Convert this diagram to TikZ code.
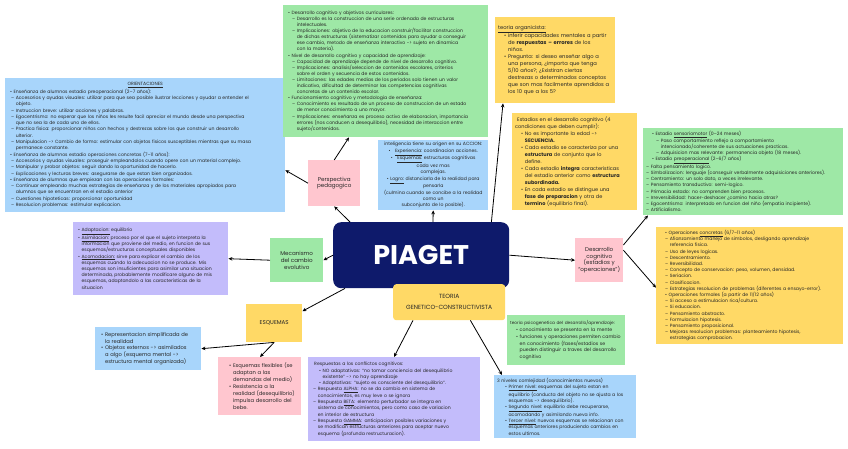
\documentclass[tikz,border=0pt]{standalone}
\usepackage{fontspec}
\setmainfont{Poppins}
\usetikzlibrary{arrows.meta}
\definecolor{bluefill}{HTML}{A8D5FB}
\definecolor{greenfill}{HTML}{9EE8A6}
\definecolor{yellowfill}{HTML}{FFD966}
\definecolor{pinkfill}{HTML}{FFC6CF}
\definecolor{purplefill}{HTML}{C3BCFB}
\definecolor{navyfill}{HTML}{0E1A6B}
\newcommand{\sz}[2]{\fontsize{#1}{#2}\selectfont}
\newcommand{\bi}[1][5pt]{\hspace*{#1}\textbullet\ }
\newcommand{\bc}[1][5pt]{\hspace*{#1}\phantom{\textbullet\ }}
\newcommand{\di}[1][0pt]{\hspace*{#1}–\ }
\newcommand{\dc}[1][0pt]{\hspace*{#1}\phantom{–\ }}

\begin{document}
\begin{tikzpicture}[x=1pt, y=-1pt,
    card/.style={anchor=north west, inner xsep=3pt, inner ysep=0pt, align=left, text=black!85},
    tag/.style={anchor=north west, inner sep=0pt, align=center, text=black!85, font=\sz{5.6}{6.8}},
    arr/.style={-{Stealth[length=4pt, width=3.6pt]}, line width=0.8pt},
  ]
    \fill[white] (0,0) rectangle (848,449);
    \useasboundingbox (0,0) rectangle (848,449);

    % centre
    \node[anchor=north west, fill=navyfill, rounded corners=8pt, minimum width=176pt, minimum height=66pt, text=white, font=\sz{27}{27}\bfseries] (piaget) at (333,222) {PIAGET};
    \node[tag, fill=yellowfill, rounded corners=3pt, minimum width=112pt, minimum height=36pt, font=\sz{6}{11}] (teoria) at (393,284) {TEORIA\\GENETICO-CONSTRUCTIVISTA};

    % small label boxes
    \node[tag, fill=pinkfill, minimum width=52pt, minimum height=46pt] (perspec) at (308,160) {Perspectiva\\pedagogico};
    \node[tag, fill=greenfill, minimum width=53pt, minimum height=44pt] (mecan) at (270,238) {Mecanismo\\del cambio\\evolutivo};
    \node[tag, fill=pinkfill, minimum width=48pt, minimum height=44pt] (desarr) at (575,238) {Desarrollo\\cognitivo\\(estadios y\\“operaciones”)};
    \node[tag, fill=yellowfill, minimum width=56pt, minimum height=38pt] (esquem) at (246,304) {ESQUEMAS};

    % text boxes
    \node[card, fill=bluefill, text width=274pt, minimum height=134pt, font=\sz{4.6}{6.3}] (orient) at (5,78) {%
      \makebox[\linewidth]{\underline{ORIENTACIONES}}\\
      \bi[2pt]Enseñanza de alumnos estadio preoperacional (2–7 años):\\
      \di[3pt]Accesorios y ayudas visuales: utilizar para que sea posible ilustrar lecciones y ayudar a entender el\\
      \dc[3pt]objeto.\\
      \di[3pt]Instruccion breve: utilizar acciones y palabras.\\
      \di[3pt]Egocentrismo: no esperar que los niños les resulte facil apreciar el mundo desde una perspectiva\\
      \dc[3pt]que no sea la de cada uno de ellos.\\
      \di[3pt]Practica fisica: proporcionar niños con hechos y destrezas sobre los que construir un desarrollo\\
      \dc[3pt]ulterior.\\
      \di[3pt]Manipulacion -> Cambio de forma: estimular con objetos fisicos susceptibles mientras que su masa\\
      \dc[3pt]permanece constante.\\
      \bi[2pt]Enseñanza de alumnos estadio operaciones concretas (7–11 años):\\
      \di[3pt]Accesorios y ayudas visuales: proseguir empleandolos cuando opere con un material complejo.\\
      \di[3pt]Manipular y probar objetos: seguir dando la oportunidad de hacerlo.\\
      \di[3pt]Explicaciones y lecturas breves: asegurarse de que estan bien organizados.\\
      \bi[2pt]Enseñanza de alumnos que empiezan con las operaciones formales:\\
      \di[3pt]Continuar empleando muchas estrategias de enseñanza y de los materiales apropiados para\\
      \dc[3pt]alumnos que se encuentran en el estadio anterior\\
      \di[3pt]Cuestiones hipoteticas: proporcionar oportunidad\\
      \di[3pt]Resolucion problemas: estimular explicacion.};

    \node[card, fill=greenfill, text width=199pt, minimum height=132pt, font=\sz{4.6}{6.1}] (curric) at (283,5) {%
      \bi[2pt]Desarrollo cognitivo y objetivos curriculares:\\
      \di[6pt]Desarrollo es la construccion de una serie ordenada de estructuras\\
      \dc[6pt]intelectuales.\\
      \di[6pt]Implicaciones: objetivo de la educacion construir/facilitar construccion\\
      \dc[6pt]de dichas estructuras (sistematizar contenidos para ayudar a conseguir\\
      \dc[6pt]ese cambio, metodo de enseñanza interactivo -> sujeto en dinamica\\
      \dc[6pt]con la materia).\\
      \bi[2pt]Nivel de desarrollo cognitivo y capacidad de aprendizaje:\\
      \di[6pt]Capacidad de aprendizaje depende de nivel de desarrollo cognitivo.\\
      \di[6pt]Implicaciones: analisis/seleccion de contenidos escolares, criterios\\
      \dc[6pt]sobre el orden y secuencia de estos contenidos.\\
      \di[6pt]Limitaciones: las edades medias de los periodos solo tienen un valor\\
      \dc[6pt]indicativo, dificultad de determinar las competencias cognitivas\\
      \dc[6pt]concretas de un contenido escolar.\\
      \bi[2pt]Funcionamiento cognitivo y metodologia de enseñanza:\\
      \di[6pt]Conocimiento es resultado de un proceso de construccion de un estado\\
      \dc[6pt]de menor conocimiento a uno mayor.\\
      \di[6pt]Implicaciones: enseñanza es proceso activo de elaboracion, importancia\\
      \dc[6pt]errores (nos conducen a desequilibrio), necesidad de interaccion entre\\
      \dc[6pt]sujeto/contenidos.};

    \node[card, fill=yellowfill, text width=114pt, minimum height=86pt, font=\sz{5.2}{7}] (organ) at (495,17) {%
      \underline{teoria organicista:}\\
      \bi[6pt]inferir capacidades mentales a partir\\
      \bc[6pt]de \textbf{respuestas – errores} de los\\
      \bc[6pt]niños.\\
      \bi[6pt]Pregunta: si deseo enseñar algo a\\
      \bc[6pt]una persona, ¿importa que tenga\\
      \bc[6pt]5/10 años?; ¿Existiran ciertas\\
      \bc[6pt]destrezas o determinados conceptos\\
      \bc[6pt]que son mas facilmente aprendidos a\\
      \bc[6pt]los 10 que a los 5?};

    \node[card, fill=yellowfill, text width=119pt, minimum height=97pt, font=\sz{5}{7}] (estad) at (512,113) {%
      \hspace*{2pt}Estadios en el desarrollo cognitivo (4\\
      condiciones que deben cumplir):\\
      \bi[6pt]No es importante la edad ->\\
      \bc[6pt]\textbf{SECUENCIA.}\\
      \bi[6pt]Cada estadio se caracteriza por una\\
      \bc[6pt]\textbf{estructura} de conjunto que lo\\
      \bc[6pt]define.\\
      \bi[6pt]Cada estadio \textbf{integra} caracteristicas\\
      \bc[6pt]del estadio anterior como \textbf{estructura}\\
      \bc[6pt]\textbf{subordinada.}\\
      \bi[6pt]En cada estadio se distingue una\\
      \bc[6pt]\textbf{fase de preparacion} y otra de\\
      \bc[6pt]\textbf{termino} (equilibrio final).};

    \node[card, fill=greenfill, text width=194pt, minimum height=87pt, font=\sz{4.6}{6.2}] (sensor) at (643,128) {%
      \bi[6pt]Estadio \underline{sensoriomotor} (0–24 meses)\\
      \di[10pt]Paso comportamiento reflejo a comportamiento\\
      \dc[10pt]intencionado/coherente de sus actuaciones practicas.\\
      \di[10pt]Adquisicion mas relevante: permanencia objeto (18 meses).\\
      \bi[6pt]Estadio \underline{preoperacional} (2–6/7 años)\\
      \di Falta pensamiento logico.\\
      \di Simbolizacion: lenguaje (conseguir verbalmente adquisiciones anteriores).\\
      \di Centramiento: un solo dato, a veces irrelevante.\\
      \di Pensamiento transductivo: semi-logico.\\
      \di Primacia estado: no comprenden bien procesos.\\
      \di Irreversibilidad: hacer-deshacer ¿camino hacia atras?\\
      \di Egocentrismo: interpretado en funcion del niño (empatia incipiente).\\
      \di Artificialismo.};

    \node[card, fill=yellowfill, text width=181pt, minimum height=117pt, font=\sz{4.6}{6.2}] (operac) at (656,227) {%
      \bi[6pt]Operaciones \underline{concretas} (6/7–11 años)\\
      \di[6pt]Afianzamiento manejo de simbolos, desligando aprendizaje\\
      \dc[6pt]referencia fisica.\\
      \di[6pt]Uso de leyes logicas.\\
      \di[6pt]Descentramiento.\\
      \di[6pt]Reversibilidad.\\
      \di[6pt]Concepto de conservacion: peso, volumen, densidad.\\
      \di[6pt]Seriacion.\\
      \di[6pt]Clasificacion.\\
      \di[6pt]Estrategias resolucion de problemas (diferentes a ensayo-error).\\
      \bi[6pt]Operaciones formales (a partir de 11/12 años)\\
      \di[6pt]Si acceso a estimulacion rica/cultura.\\
      \di[6pt]Si educacion.\\
      \di[6pt]Pensamiento abstracto.\\
      \di[6pt]Formulacion hipotesis.\\
      \di[6pt]Pensamiento proposicional.\\
      \di[6pt]Mejoras resolucion problemas: planteamiento hipotesis,\\
      \dc[6pt]estrategias comprobacion.};

    \node[card, fill=bluefill, text width=104pt, minimum height=70pt, align=center, font=\sz{4.6}{6.3}] (intelig) at (378,140) {%
      inteligencia tiene su origen en su ACCION:\\
      \textbullet\quad\underline{Experiencia:} coordinacion acciones.\\
      \textbullet\quad\underline{Esquemas:} estructuras cognitivas\\
      cada vez mas\\
      complejas.\\
      \textbullet\ \underline{Logro:} distanciarla de la realidad para\\
      pensarla\\
      (culmina cuando se concibe a la realidad\\
      como un\\
      subconjunto de lo posible).};

    \node[card, fill=purplefill, text width=149pt, minimum height=73pt, font=\sz{4.6}{6.2}] (adapt) at (73,222) {%
      \bi[2pt]\underline{Adaptacion:} equilibrio\\
      \bi[2pt]\underline{Asimilacion:} proceso por el que el sujeto interpreta la\\
      \bc[2pt]informacion que proviene del medio, en funcion de sus\\
      \bc[2pt]esquemas/estructuras conceptuales disponibles\\
      \bi[2pt]\underline{Acomodacion:} sirve para explicar el cambio de los\\
      \bc[2pt]esquemas cuando la adecuacion no se produce. Mis\\
      \bc[2pt]esquemas son insuficientes para asimilar una situacion\\
      \bc[2pt]determinada, probablemente modificare alguno de mis\\
      \bc[2pt]esquemas, adaptandolo a las caracteristicas de la\\
      \bc[2pt]situacion};

    \node[card, fill=bluefill, text width=100pt, minimum height=43pt, font=\sz{5.2}{6.8}] (repres) at (95,327) {%
      \bi[3pt]Representacion simplificada de\\
      \bc[3pt]la realidad\\
      \bi[3pt]Objetos externos -> asimilados\\
      \bc[3pt]a algo (esquema mental ->\\
      \bc[3pt]estructura mental organizada)};

    \node[card, fill=pinkfill, text width=77pt, minimum height=58pt, font=\sz{5.2}{6.9}] (flexib) at (218,357) {%
      \bi[8pt]Esquemas flexibles (se\\
      \bc[8pt]adaptan a las\\
      \bc[8pt]demandas del medio)\\
      \bi[8pt]Resistencia a la\\
      \bc[8pt]realidad (desequilibrio)\\
      \bc[8pt]impulsa desarrollo del\\
      \bc[8pt]bebe.};

    \node[card, fill=purplefill, text width=166pt, minimum height=84pt, font=\sz{4.6}{6.3}] (respue) at (308,357) {%
      \hspace*{3pt}Respuestas a los conflictos cognitivos:\\
      \bi[8pt]NO adaptativas: “no tomar conciencia del desequilibrio\\
      \bc[8pt]existente” -> no hay aprendizaje\\
      \bi[8pt]Adaptativas: “sujeto es consciente del desequilibrio”.\\
      \di[2pt]Respuesta \underline{ALPHA}: no se da cambio en sistema de\\
      \dc[2pt]conocimientos, es muy leve o se ignora\\
      \di[2pt]Respuesta \underline{BETA}: elemento perturbador se integra en\\
      \dc[2pt]sistema de conocimientos, pero como caso de variacion\\
      \dc[2pt]en interior de estructura\\
      \di[2pt]Respuesta \underline{GAMMA}: anticipacion posibles variaciones y\\
      \dc[2pt]se modifican estructuras anteriores para aceptar nuevo\\
      \dc[2pt]esquema (profunda restructuracion).};

    \node[card, fill=greenfill, text width=112pt, minimum height=50pt, font=\sz{4.7}{6.9}] (psicog) at (507,315) {%
      {\sz{4.3}{6.9}teoria psicogenetica del desarrollo/aprendizaje:}\\
      \bi[6pt]conocimiento se presenta en la mente\\
      \bi[6pt]funciones y operaciones permiten cambio\\
      \bc[6pt]en conocimiento (fases/estadios se\\
      \bc[6pt]pueden distinguir a traves del desarrollo\\
      \bc[6pt]cognitivo};

    \node[card, fill=bluefill, text width=136pt, minimum height=63pt, font=\sz{4.6}{6.3}] (niveles) at (494,375) {%
      3 niveles comlejidad (conocimientos nuevos)\\
      \bi[8pt]\underline{Primer nivel:} esquemas del sujeto estan en\\
      \bc[8pt]equilibrio (conducta del objeto no se ajusta a los\\
      \bc[8pt]esquemas -> desequilibrio).\\
      \bi[8pt]\underline{Segundo nivel:} equilibrio debe recuperarse,\\
      \bc[8pt]acomodando y asimilando nueva info.\\
      \bi[8pt]\underline{Tercer nivel:} nuevos esquemas se relacionan con\\
      \bc[8pt]esquemas anteriores produciendo cambios en\\
      \bc[8pt]estos ultimos.};

    % connectors
    \draw[arr] ([xshift=17pt]piaget.north west) -- (perspec.south);
    \draw[arr] (perspec.north) -- ([xshift=66pt]curric.south west);
    \draw[arr] (perspec.west) -- ([yshift=-25pt]orient.east);
    \draw[arr] ([xshift=100pt]piaget.north west) -- (intelig.south);
    \draw[arr] ([xshift=-18pt]piaget.north east) -- ([xshift=8pt]organ.south west);
    \draw[arr] (piaget.east) -- (desarr.west);
    \draw[arr] (piaget.west) -- (mecan.east);
    \draw[arr] (mecan.west) -- (adapt.east);
    \draw[arr] ([xshift=12pt]piaget.south west) -- ([yshift=12pt]esquem.east);
    \draw[arr] (esquem.south) -- (repres.east);
    \draw[arr] (esquem.south) -- ([xshift=42pt]flexib.north west);
    \draw[arr] ([xshift=20pt]teoria.south west) -- ([xshift=86pt]respue.north west);
    \draw[arr] ([xshift=-35pt]teoria.south east) -- ([xshift=8pt]niveles.north west);
    \draw[arr] ([yshift=-7pt]desarr.north east) -- ([xshift=5pt]sensor.south west);
    \draw[arr] ([yshift=10pt]desarr.east) -- ([yshift=-2pt]operac.west);
  \end{tikzpicture}
\end{document}
